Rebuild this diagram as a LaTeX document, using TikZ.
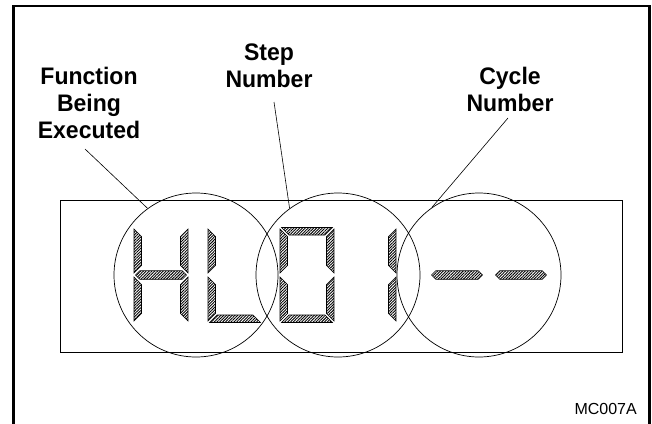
\documentclass[tikz,border=0pt]{standalone}
\usepackage{fontspec}
\setmainfont{Liberation Sans}
\usetikzlibrary{patterns.meta}
\def\dgT{227.5}
\def\dgB{322.5}
\def\dgM{275}
\def\dgt{7.5}
\def\dgh{4.25}
\def\dgg{1.5}
\def\dgc{2}
\def\dgw{54}
\tikzset{
  seg/.style={draw=black, line width=0.6pt, pattern={Lines[angle=45,distance=2pt,line width=0.9pt]}},
  ring/.style={circle, draw, minimum size=164pt, inner sep=0pt, line width=0.7pt},
  lbl/.style={font=\bfseries\fontsize{23}{27}\selectfont, anchor=base, inner sep=0pt, yscale=1.04},
  leader/.style={line width=0.6pt},
}
\newcommand\segUL[1]{\path[seg] (#1,{\dgT+\dgg}) -- ({#1+\dgt},{\dgT+\dgg+\dgt}) -- ({#1+\dgt},{\dgM-\dgc-\dgt}) -- (#1,{\dgM-\dgc}) -- cycle;}
\newcommand\segLL[1]{\path[seg] (#1,{\dgM+\dgc}) -- ({#1+\dgt},{\dgM+\dgc+\dgt}) -- ({#1+\dgt},{\dgB-\dgg-\dgt}) -- (#1,{\dgB-\dgg}) -- cycle;}
\newcommand\segUR[1]{\path[seg] ({#1+\dgw},{\dgT+\dgg}) -- ({#1+\dgw-\dgt},{\dgT+\dgg+\dgt}) -- ({#1+\dgw-\dgt},{\dgM-\dgc-\dgt}) -- ({#1+\dgw},{\dgM-\dgc}) -- cycle;}
\newcommand\segLR[1]{\path[seg] ({#1+\dgw},{\dgM+\dgc}) -- ({#1+\dgw-\dgt},{\dgM+\dgc+\dgt}) -- ({#1+\dgw-\dgt},{\dgB-\dgg-\dgt}) -- ({#1+\dgw},{\dgB-\dgg}) -- cycle;}
\newcommand\segTop[1]{\path[seg] ({#1+\dgg},\dgT) -- ({#1+\dgw-\dgg},\dgT) -- ({#1+\dgw-\dgg-\dgt},{\dgT+\dgt}) -- ({#1+\dgg+\dgt},{\dgT+\dgt}) -- cycle;}
\newcommand\segBot[1]{\path[seg] ({#1+\dgg},\dgB) -- ({#1+\dgw-\dgg},\dgB) -- ({#1+\dgw-\dgg-\dgt},{\dgB-\dgt}) -- ({#1+\dgg+\dgt},{\dgB-\dgt}) -- cycle;}
\newcommand\segMid[1]{\path[seg] ({#1+\dgg},\dgM) -- ({#1+\dgg+\dgh},{\dgM-\dgh}) -- ({#1+\dgw-\dgg-\dgh},{\dgM-\dgh}) -- ({#1+\dgw-\dgg},\dgM) -- ({#1+\dgw-\dgg-\dgh},{\dgM+\dgh}) -- ({#1+\dgg+\dgh},{\dgM+\dgh}) -- cycle;}
\begin{document}
\begin{tikzpicture}[x=1pt, y=-1pt]
\useasboundingbox (0,0) rectangle (652,423);
% outer frame (open at the bottom)
\draw[line width=2.6pt] (13.3,424) -- (13.3,6) -- (649.5,6) -- (649.5,424);
% display window
\draw[line width=0.9pt] (60,200.5) rectangle (622.5,352.5);
% H
\segUL{134}\segLL{134}\segUR{134}\segLR{134}\segMid{134}
% L
\segUL{208}\segLL{208}\segBot{208}
% 0
\segUL{280}\segLL{280}\segUR{280}\segLR{280}\segTop{280}\segBot{280}
% 1
\segUR{342}\segLR{342}
% dashes
\segMid{430}\segMid{494}
% circles
\node[ring] (c1) at (196,275) {};
\node[ring] (c2) at (338,275) {};
\node[ring] (c3) at (479,275) {};
% labels
\node[lbl] (fn1) at (89,84) {Function};
\node[lbl] (fn2) at (89,111) {Being};
\node[lbl] (fn3) at (89,138) {Executed};
\node[lbl] (st1) at (269,60) {Step};
\node[lbl] (st2) at (269,87) {Number};
\node[lbl] (cy1) at (510,84) {Cycle};
\node[lbl] (cy2) at (510,111) {Number};
% leaders
\coordinate (l1) at (85,149);
\coordinate (l2) at (274,102);
\coordinate (l3) at (508,118);
\draw[leader] (l1) -- (c1.126);
\draw[leader] (l2) -- (c2.126);
\draw[leader] (l3) -- (c3.125);
% figure code
\node[font=\fontsize{16}{19}\selectfont, anchor=base east, inner sep=0pt] (code) at (637,414) {MC007A};
\end{tikzpicture}
\end{document}
